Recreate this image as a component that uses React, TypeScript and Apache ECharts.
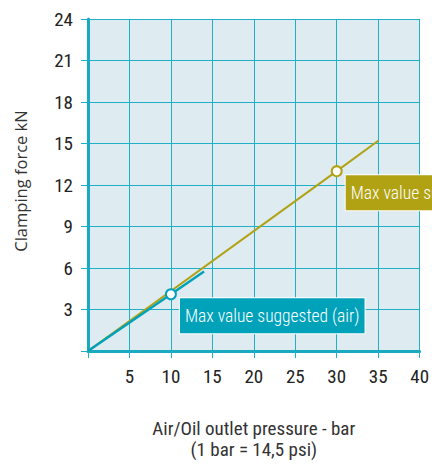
import React, { useEffect, useRef } from "react";
import * as echarts from "echarts";

const xTicks = [0, 5, 10, 15, 20, 25, 30, 35, 40];
const yTicks = [0, 3, 6, 9, 12, 15, 18, 21, 24];
const airX = [0, 10, 14];
const airY = [0, 4.1, 5.75];
const oilX = [0, 30, 35];
const oilY = [0, 13, 15.2];
const airMaxIndex = 1;
const oilMaxIndex = 1;
const airLabel = "Max value suggested (air)";
const oilLabel = "Max value suggested (oil)";
const xName = "Air/Oil outlet pressure - bar\n(1 bar = 14,5 psi)";
const yName = "Clamping force kN";

const TEAL = "#00a2ba";
const OLIVE = "#b1a213";
const GRID = "#1fb0c8";
const NARROW = "'Roboto Condensed', 'DejaVu Sans Condensed', sans-serif";

function buildData(xs: number[], ys: number[], maxIdx: number, color: string, text: string) {
  return xs.map((x, i) => {
    if (i !== maxIdx) return { value: [x, ys[i]], symbol: "none" };
    return {
      value: [x, ys[i]],
      symbol: "circle",
      symbolSize: 10,
      itemStyle: { color: "#ffffff", borderColor: color, borderWidth: 2 },
      label: {
        show: true,
        formatter: text,
        position: [15, 10],
        align: "left",
        verticalAlign: "top",
        backgroundColor: color,
        borderColor: "#ffffff",
        borderWidth: 1,
        padding: [8, 5, 7, 5],
        color: "#ffffff",
        fontFamily: NARROW,
        fontWeight: 300,
        fontSize: 17.5,
        lineHeight: 20,
      },
    };
  });
}

export default function App() {
  const ref = useRef<HTMLDivElement>(null);
  useEffect(() => {
    document.body.style.margin = "0";
    if (!ref.current) return;
    const chart = echarts.init(ref.current, null, { renderer: "svg" });
    chart.setOption({
      animation: false,
      grid: {
        left: 88,
        right: 9,
        top: 19,
        bottom: 112,
        show: true,
        backgroundColor: "#deebf1",
        borderWidth: 0,
      },
      xAxis: {
        type: "value",
        min: xTicks[0],
        max: xTicks[xTicks.length - 1],
        interval: 5,
        name: xName,
        nameLocation: "middle",
        nameGap: 67,
        nameTextStyle: {
          fontFamily: NARROW,
          fontSize: 19,
          color: "#333333",
          lineHeight: 21,
          verticalAlign: "top",
        },
        axisLine: { show: true, onZero: false, lineStyle: { color: "#19a9c1", width: 3 } },
        axisTick: { show: true, length: 7, lineStyle: { color: GRID, width: 1 } },
        axisLabel: {
          margin: 16,
          fontFamily: NARROW,
          fontSize: 19,
          color: "#222222",
          formatter: (v: number) => (v === 0 ? "" : String(v)),
        },
        splitLine: { show: true, lineStyle: { color: GRID, width: 1 } },
      },
      yAxis: {
        type: "value",
        min: yTicks[0],
        max: yTicks[yTicks.length - 1],
        interval: 3,
        name: yName,
        nameLocation: "middle",
        nameGap: 59,
        nameTextStyle: {
          fontFamily: "'Open Sans', sans-serif",
          fontSize: 16.5,
          color: "#333333",
          padding: [0, 0, 0, 8],
        },
        axisLine: { show: true, onZero: false, lineStyle: { color: "#19a9c1", width: 3 } },
        axisTick: { show: true, length: 7, lineStyle: { color: GRID, width: 1 } },
        axisLabel: {
          margin: 15,
          fontFamily: NARROW,
          fontSize: 19,
          color: "#222222",
          formatter: (v: number) => (v === 0 ? "" : String(v)),
        },
        splitLine: { show: true, lineStyle: { color: GRID, width: 1 } },
      },
      series: [
        {
          type: "line",
          name: "oil",
          data: buildData(oilX, oilY, oilMaxIndex, OLIVE, oilLabel),
          lineStyle: { color: OLIVE, width: 2 },
          itemStyle: { color: OLIVE },
          showSymbol: true,
          z: 2,
        },
        {
          type: "line",
          name: "air",
          data: buildData(airX, airY, airMaxIndex, TEAL, airLabel),
          lineStyle: { color: TEAL, width: 2.5 },
          itemStyle: { color: TEAL },
          showSymbol: true,
          z: 3,
        },
      ],
    });
    return () => chart.dispose();
  }, []);
  return <div ref={ref} style={{ width: 432, height: 465 }} />;
}
